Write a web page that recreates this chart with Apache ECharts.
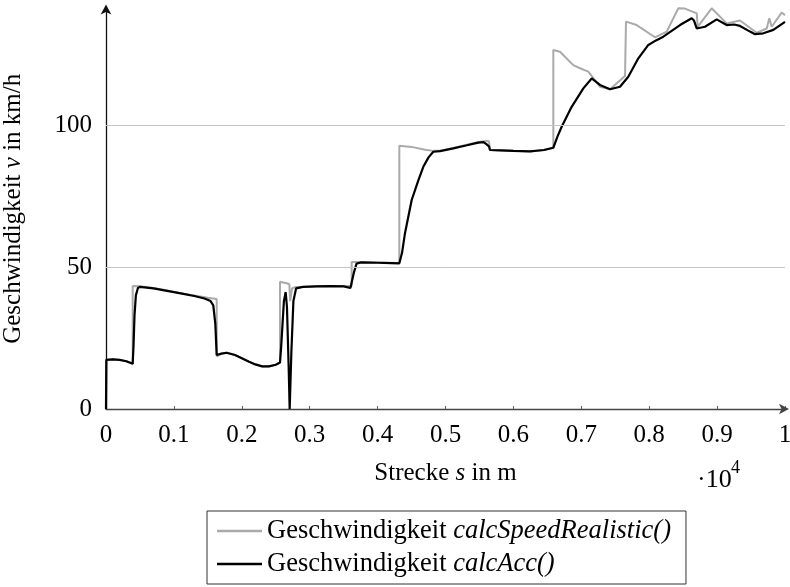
<!DOCTYPE html>
<html>
<head>
<meta charset="utf-8">
<script src="https://cdn.jsdelivr.net/npm/echarts@6/dist/echarts.min.js"></script>
<style>
html,body{margin:0;padding:0;background:#fff;}
#chart{width:790px;height:587px;}
</style>
</head>
<body>
<div id="chart"></div>
<script>
// x tick values (m) and their labels (×10^4)
const xTicks = [0,1000,2000,3000,4000,5000,6000,7000,8000,9000,10000];
const yTicks = [0,50,100];

// calcAcc() – black
const accS = [0,5,100,200,300,393,405,420,440,470,500,700,900,1100,1300,1450,1540,1580,1610,1630,1650,1700,1777,1900,2000,2100,2200,2300,2400,2500,2563,2580,2620,2646,2665,2690,2705,2715,2730,2760,2800,2900,3100,3300,3500,3600,3620,3650,3690,3750,4000,4200,4320,4360,4404,4502,4600,4673,4750,4820,4919,5115,5300,5483,5560,5607,5640,5655,5800,6000,6244,6450,6588,6650,6711,6858,7030,7153,7275,7423,7570,7692,7840,7987,8100,8208,8454,8626,8660,8700,8822,8994,9141,9250,9337,9485,9558,9681,9828,10000];
const accV = [0,17.3,17.5,17.3,16.8,15.9,22,33,40,42.6,43.0,42.5,41.6,40.7,39.8,38.9,38.0,36.5,30,19,18.8,19.5,19.8,19.0,17.9,16.7,15.7,15.0,15.0,15.6,16.4,22,38,41.2,36,15,0,0,20,38,42.5,43.0,43.2,43.3,43.2,42.6,42.5,48,51.2,51.6,51.5,51.4,51.3,55,62,73.6,80.5,85.3,88.6,90.6,90.8,91.8,92.8,93.8,94.0,93.2,92.5,91.2,91.1,90.9,90.7,91.2,92.0,96,99.4,106.4,112.9,116.4,114.1,112.6,113.5,117.0,123.5,128.2,129.8,131.1,135.2,137.6,136.8,134.0,134.6,137.2,135.2,135.4,134.9,132.9,132.0,132.3,133.5,136.3];

// calcSpeedRealistic() – grey
const realS = [0,5,100,200,300,393,393,500,700,900,1100,1300,1500,1630,1632,1650,1700,1777,1900,2000,2100,2200,2300,2400,2500,2563,2563,2700,2712,2740,2800,2900,3100,3300,3500,3618,3618,3700,4000,4320,4320,4500,4700,4820,4919,5115,5300,5483,5600,5640,5655,5800,6000,6244,6450,6588,6588,6686,6882,6981,7103,7275,7423,7644,7658,7658,7816,8085,8258,8429,8527,8700,8714,8920,9141,9337,9583,9731,9769,9804,9951,10000];
const realV = [0,17.3,17.5,17.3,16.8,15.9,43.3,43.2,42.6,41.7,40.8,40.0,39.2,38.7,18.5,18.8,19.5,19.8,19.0,17.9,16.7,15.7,15.0,15.0,15.6,16.4,44.8,44.0,38,42.5,43.0,43.0,43.2,43.3,43.3,43.3,51.8,51.8,51.6,51.4,92.7,92.3,91.3,90.9,90.9,91.9,93.0,94.0,94.4,94.3,91.2,91.1,90.9,90.7,91.2,92.0,126.4,125.8,121.1,120.0,118.8,113.5,112.6,117.3,118.0,136.4,135.2,130.9,132.9,141.1,141.0,139.3,134.6,141.1,135.8,136.8,132.5,134.0,137.6,134.6,139.6,138.7];

const nameReal = 'Geschwindigkeit calcSpeedRealistic()';
const nameAcc = 'Geschwindigkeit calcAcc()';
const FONT = '"Liberation Serif", "Times New Roman", serif';

const chart = echarts.init(document.getElementById('chart'), null, {renderer:'canvas'});
const pairs = (s, v) => s.map((x, i) => [x, v[i]]);

chart.setOption({
  animation: false,
  backgroundColor: '#fff',
  grid: {left: 106, right: 5, top: 8.6, bottom: 178, containLabel: false, outerBoundsMode: 'none'},
  xAxis: {
    type: 'value', min: 0, max: 10000, interval: 1000,
    name: 'Strecke {i|s} in m', nameLocation: 'middle', nameGap: 52,
    nameTextStyle: {fontFamily: FONT, fontSize: 25, color: '#000',
      rich: {i: {fontFamily: FONT, fontSize: 25, fontStyle: 'italic', color: '#000'}}},
    axisLine: {show: true, symbol: ['none', 'arrow'], symbolSize: [8, 10], symbolOffset: [0, 4],
      lineStyle: {color: '#444', width: 1.3}},
    axisTick: {show: true, inside: true, length: 3, lineStyle: {color: '#666'}},
    axisLabel: {fontFamily: FONT, fontSize: 25, color: '#000', margin: 14,
      formatter: v => xTicks.includes(v) ? String(v / 10000) : ''},
    splitLine: {show: false}
  },
  yAxis: {
    type: 'value', min: 0, max: 141, interval: 50,
    name: 'Geschwindigkeit {i|v} in km/h', nameLocation: 'middle', nameGap: 80, nameRotate: 90,
    nameTextStyle: {fontFamily: FONT, fontSize: 25, color: '#000',
      rich: {i: {fontFamily: FONT, fontSize: 25, fontStyle: 'italic', color: '#000'}}},
    axisLine: {show: true, symbol: ['none', 'arrow'], symbolSize: [8, 10], symbolOffset: [0, 4],
      lineStyle: {color: '#111', width: 1.3}},
    axisTick: {show: false},
    axisLabel: {fontFamily: FONT, fontSize: 25, color: '#000', margin: 14,
      formatter: v => yTicks.includes(v) ? String(v) : ''},
    splitLine: {show: false}
  },
  legend: {
    orient: 'vertical', left: 207, top: 511,
    backgroundColor: '#fff', borderColor: '#333', borderWidth: 1,
    padding: [6, 15, 6, 10], itemGap: 5, itemWidth: 45, itemHeight: 2.5,
    textStyle: {fontFamily: FONT, fontSize: 26.5, lineHeight: 28, color: '#000',
      rich: {n: {fontFamily: FONT, fontSize: 26.5, color: '#000'},
             i: {fontFamily: FONT, fontSize: 26.5, fontStyle: 'italic', color: '#000'}}},
    formatter: name => '{n|Geschwindigkeit }{i|' + name.replace('Geschwindigkeit ', '') + '}',
    data: [
      {name: nameReal, icon: 'rect', itemStyle: {color: '#aaaaaa'}},
      {name: nameAcc, icon: 'rect', itemStyle: {color: '#000'}}
    ]
  },
  graphic: [
    {type: 'text', left: 697, top: 467, style: {text: '·10', font: '26px "Liberation Serif"', fill: '#000'}},
    {type: 'text', left: 731, top: 459, style: {text: '4', font: '18px "Liberation Serif"', fill: '#000'}}
  ],
  series: [
    {
      name: 'grid', type: 'line', data: [], silent: true, z: 1,
      markLine: {silent: true, symbol: 'none', label: {show: false},
        lineStyle: {color: '#c4c4c4', width: 1, type: 'solid'},
        data: [{yAxis: 50}, {yAxis: 100}]}
    },
    {
      name: nameReal, type: 'line', data: pairs(realS, realV), showSymbol: false, symbol: 'none',
      color: '#aaaaaa', lineStyle: {color: '#aaaaaa', width: 2}, z: 2, clip: false
    },
    {
      name: nameAcc, type: 'line', data: pairs(accS, accV), showSymbol: false, symbol: 'none',
      color: '#000', lineStyle: {color: '#000', width: 2.2}, z: 3, clip: false
    }
  ]
});
</script>
</body>
</html>
